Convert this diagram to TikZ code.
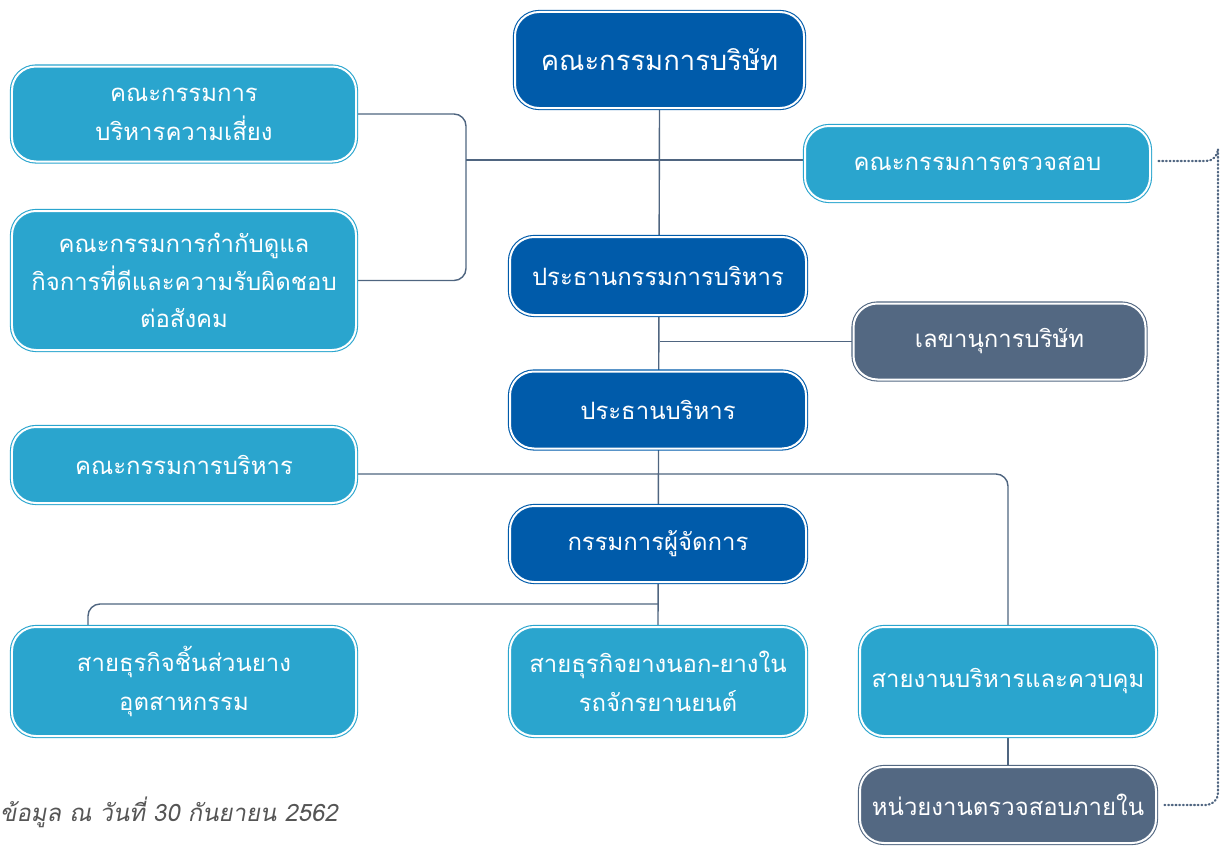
\documentclass[tikz,border=0pt]{standalone}
\usepackage{fontspec}
\usetikzlibrary{backgrounds,calc}
\newfontfamily\thai[Script=Thai]{Loma}
\newfontfamily\thaiit[Script=Thai,FakeSlant=0.18]{Loma}
\definecolor{darkb}{HTML}{005BAA}
\definecolor{lightb}{HTML}{2AA5CE}
\definecolor{slate}{HTML}{536882}
\definecolor{linec}{HTML}{4F6580}
\definecolor{notec}{HTML}{555555}
\tikzset{
  box/.style={rectangle, rounded corners=24bp, line width=1.1bp, double=white, double distance=2bp,
    text=white, align=center, font=\thai\fontsize{24}{39}\selectfont, inner sep=0pt},
  dbox/.style={box, draw=darkb, fill=darkb},
  lbox/.style={box, draw=lightb, fill=lightb},
  sbox/.style={box, draw=slate, fill=slate},
  conn/.style={draw=linec, line width=1.4bp},
  dotconn/.style={draw=linec, line width=2.2bp, line cap=round, dash pattern=on 0.9bp off 2.8bp}
}
\begin{document}
\begin{tikzpicture}[x=1bp,y=-1bp]
\useasboundingbox (0,0) rectangle (1224,846);
% nodes
\node[dbox, minimum width=289bp, minimum height=96bp, font=\thai\fontsize{27.5}{33}\selectfont] (board) at (659.5,60) {คณะกรรมการบริษัท};
\node[lbox, minimum width=344bp, minimum height=95bp] (risk) at (184,114) {คณะกรรมการ\\บริหารความเสี่ยง};
\node[lbox, minimum width=344bp, minimum height=139bp, font=\thai\fontsize{24}{37.5}\selectfont] (cg) at (184,280.5) {คณะกรรมการกำกับดูแล\\กิจการที่ดีและความรับผิดชอบ\\ต่อสังคม};
\node[lbox, minimum width=345bp, minimum height=75bp] (audit) at (977.5,163.5) {คณะกรรมการตรวจสอบ};
\node[dbox, minimum width=296bp, minimum height=78bp] (exch) at (658,276) {ประธานกรรมการบริหาร};
\node[sbox, minimum width=292bp, minimum height=76bp] (sec) at (999.5,341.5) {เลขานุการบริษัท};
\node[dbox, minimum width=296bp, minimum height=77bp] (ceo) at (658,410) {ประธานบริหาร};
\node[lbox, minimum width=344bp, minimum height=76bp] (exec) at (184,465) {คณะกรรมการบริหาร};
\node[dbox, minimum width=296bp, minimum height=76bp] (md) at (658,544) {กรรมการผู้จัดการ};
\node[lbox, minimum width=344bp, minimum height=109bp] (ind) at (184,681.5) {สายธุรกิจชิ้นส่วนยาง\\อุตสาหกรรม};
\node[lbox, minimum width=296bp, minimum height=109bp] (moto) at (658,681.5) {สายธุรกิจยางนอก-ยางใน\\รถจักรยานยนต์};
\node[lbox, minimum width=296bp, minimum height=109bp] (admin) at (1008,681.5) {สายงานบริหารและควบคุม};
\node[sbox, minimum width=296bp, minimum height=76bp] (ia) at (1008,805) {หน่วยงานตรวจสอบภายใน};
\node[anchor=west, text=notec, font=\thaiit\fontsize{24}{28}\selectfont, inner sep=0pt] (note) at (0,812) {ข้อมูล ณ วันที่ 30 กันยายน 2562};
% junction coordinates
\coordinate (jx) at (466,160);
\coordinate (jy) at (658,604);
\coordinate (indtop) at (88,625);
\coordinate (exj) at (358,474);
\coordinate (dc) at (1218,161);
\begin{scope}[on background layer]
\draw[conn] (board.south) -- (moto.north);
\draw[conn, rounded corners=12bp] (risk.east) -| (jx) |- (cg.east);
\draw[conn] (jx) -- (jx -| audit.west);
\draw[conn] (sec.west) -- (sec.west -| board.south);
\draw[conn, rounded corners=12bp] (jy) -| (indtop);
\draw[conn, rounded corners=12bp] (exj) -| (admin.north);
\draw[conn] (admin.south) -- (ia.north);
\draw[dotconn, rounded corners=12bp] ($(audit.east)+(8,-2.5)$) -| (dc) |- ($(ia.east)+(8,0)$);
\end{scope}
\end{tikzpicture}
\end{document}
